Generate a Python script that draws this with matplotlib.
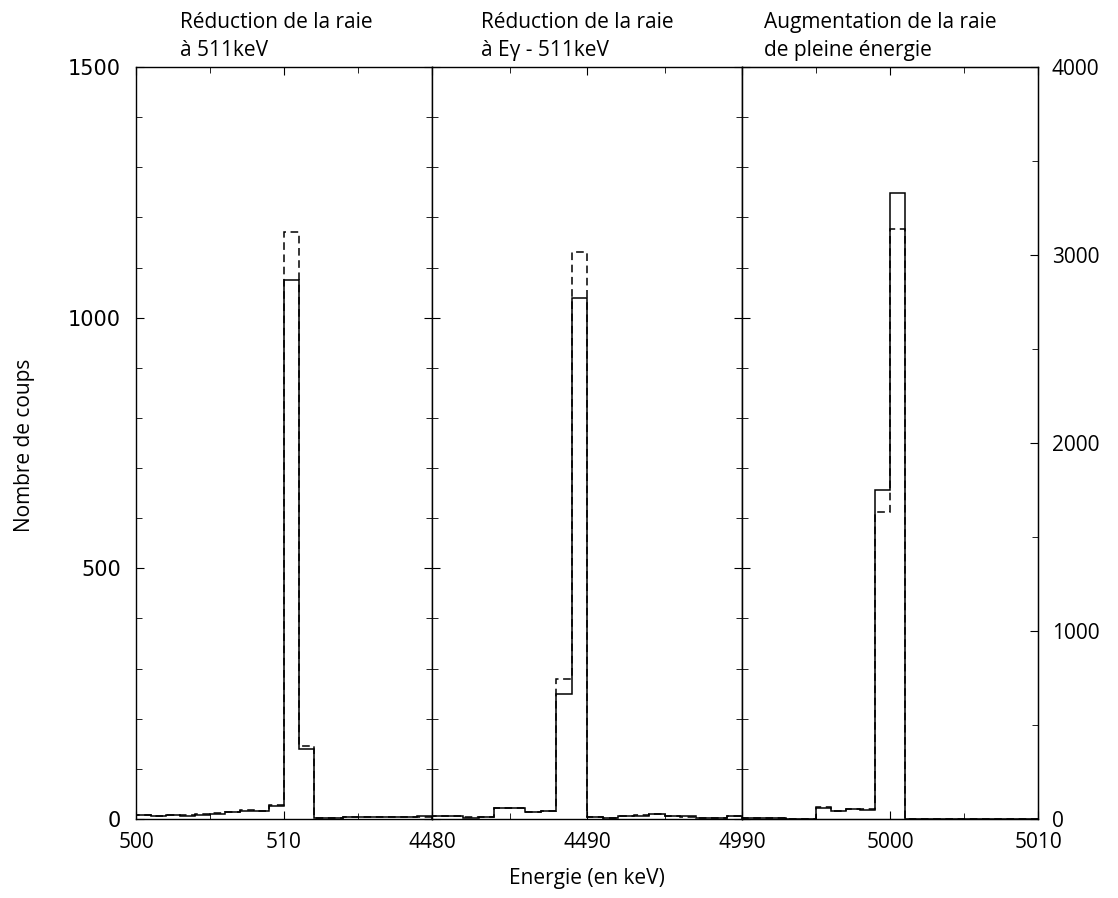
import numpy as np
import matplotlib
matplotlib.use("Agg")
import matplotlib.pyplot as plt
from matplotlib.ticker import MultipleLocator

plt.rcParams['font.family'] = ['Open Sans', 'DejaVu Sans']

# bords des canaux (1 keV)
edges_511 = np.arange(500, 521)
edges_esc = np.arange(4480, 4501)
edges_pic = np.arange(4990, 5011)

# raie a 511 keV
solid_511 = [7, 5, 7, 6, 8, 10, 13, 16, 15, 25, 1075, 140, 2, 2, 3, 3, 4, 4, 4, 5]
dash_511 = [8, 6, 7, 7, 9, 11, 14, 17, 16, 27, 1170, 146, 2, 2, 3, 3, 4, 4, 3, 4]

# raie a E - 511 keV
solid_esc = [5, 5, 2, 4, 21, 21, 13, 15, 250, 1040, 3, 2, 6, 6, 9, 5, 5, 1, 1, 5]
dash_esc = [6, 5, 3, 4, 22, 21, 14, 16, 280, 1130, 3, 2, 6, 7, 9, 5, 4, 2, 1, 5]

# raie de pleine energie (echelle de droite)
solid_pic = [4, 4, 3, 1, 1, 60, 42, 51, 50, 1750, 3331, 2, 1, 1, 1, 1, 1, 1, 1, 1]
dash_pic = [5, 4, 4, 2, 1, 62, 44, 52, 52, 1633, 3139, 2, 1, 1, 1, 1, 1, 1, 1, 1]

titles = ["Réduction de la raie\nà 511keV",
          "Réduction de la raie\nà Eγ - 511keV",
          "Augmentation de la raie\nde pleine énergie"]

W, H = 1118, 898
fig = plt.figure(figsize=(W / 100, H / 100), dpi=100)
left, right, top, bottom = 136, 1038, 67, 819
gs = fig.add_gridspec(1, 3, left=left / W, right=right / W,
                      top=1 - top / H, bottom=1 - bottom / H,
                      width_ratios=[296, 310, 296], wspace=0)
ax1 = fig.add_subplot(gs[0])
ax2 = fig.add_subplot(gs[1])
ax3 = fig.add_subplot(gs[2])
ax3r = ax3.twinx()


def style_ticks(ax):
    ax.tick_params(which='both', direction='in', labelsize=15, pad=9)
    ax.tick_params(which='major', length=6)
    ax.tick_params(which='minor', length=4)


# axes a echelle de gauche (0-1500)
for ax in (ax1, ax2, ax3):
    ax.set_ylim(0, 1500)
    ax.yaxis.set_major_locator(MultipleLocator(500))
    ax.yaxis.set_minor_locator(MultipleLocator(100))
    ax.xaxis.set_minor_locator(MultipleLocator(5))
    style_ticks(ax)
    ax.tick_params(which='both', top=True, bottom=True, left=True,
                   right=True, labelleft=False)
    for sp in ax.spines.values():
        sp.set_linewidth(1.0)
ax3.tick_params(which='both', right=False)
ax1.tick_params(axis='y', labelleft=True, pad=11)
for lab in ax1.get_yticklabels():
    lab.set_fontfamily('DejaVu Sans')
    lab.set_fontsize(15)

panels = [(ax1, ax1, edges_511, solid_511, dash_511, [500, 510]),
          (ax2, ax2, edges_esc, solid_esc, dash_esc, [4480, 4490]),
          (ax3, ax3r, edges_pic, solid_pic, dash_pic, [4990, 5000, 5010])]

for ax, axd, e, s, d, xt in panels:
    axd.stairs(d, e, color='k', lw=1.1, ls=(0, (5, 3)))
    axd.stairs(s, e, color='k', lw=1.1)
    ax.set_xlim(e[0], e[-1])
    ax.set_xticks(xt)

# echelle de droite (0-4000)
ax3r.set_ylim(0, 4000)
ax3r.yaxis.set_major_locator(MultipleLocator(1000))
ax3r.yaxis.set_minor_locator(MultipleLocator(500))
style_ticks(ax3r)
ax3r.tick_params(axis='y', pad=10)

for t, x in zip(titles, [180, 481, 764]):
    fig.text(x / W, 1 - 12 / H, t, ha='left', va='top', fontsize=15,
             linespacing=1.45)

fig.text(587 / W, 1 - 884 / H, "Energie (en keV)", ha='center',
         va='baseline', fontsize=15)
fig.text(25 / W, 1 - 445 / H, "Nombre de coups", ha='center', va='center',
         rotation=90, fontsize=15)

fig.savefig("out.png", dpi=100)
